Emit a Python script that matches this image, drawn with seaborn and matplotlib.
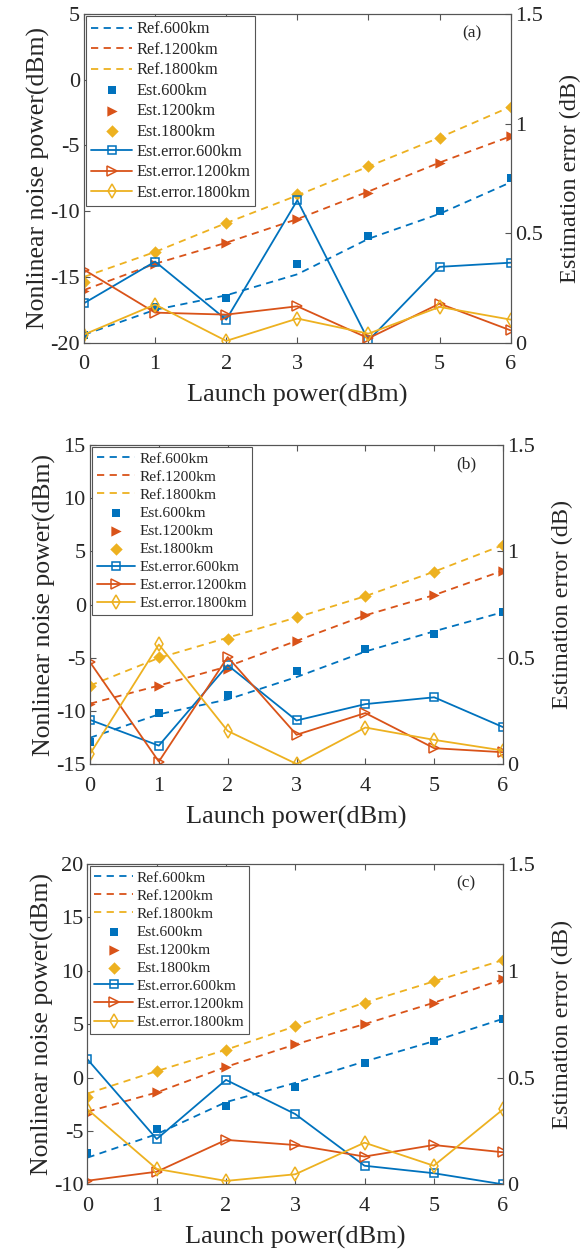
import numpy as np
import pandas as pd
import matplotlib
matplotlib.use('Agg')
import matplotlib.pyplot as plt
import seaborn as sns

# launch power (dBm)
x = [0, 1, 2, 3, 4, 5, 6]

# panel (a)
a_ref600 = [-19.4, -17.5, -16.4, -14.8, -12.1, -10.2, -7.8]
a_est600 = [-19.4, -17.3, -16.6, -14.0, -11.9, -10.0, -7.5]
a_ref1200 = [-16.0, -14.0, -12.4, -10.6, -8.5, -6.3, -4.3]
a_est1200 = [-16.1, -14.0, -12.4, -10.6, -8.6, -6.3, -4.3]
a_ref1800 = [-15.0, -13.1, -10.9, -8.8, -6.6, -4.4, -2.05]
a_est1800 = [-15.4, -13.1, -10.9, -8.7, -6.6, -4.4, -2.05]
a_err600 = [0.18, 0.37, 0.105, 0.65, 0.01, 0.346, 0.365]
a_err1200 = [0.333, 0.137, 0.128, 0.166, 0.02, 0.178, 0.056]
a_err1800 = [0.037, 0.174, 0.008, 0.110, 0.041, 0.163, 0.105]

# panel (b)
b_ref600 = [-12.5, -10.3, -8.9, -6.8, -4.4, -2.5, -0.7]
b_est600 = [-12.9, -10.2, -8.5, -6.25, -4.2, -2.8, -0.7]
b_ref1200 = [-9.3, -7.6, -5.8, -3.4, -1.0, 0.9, 3.2]
b_est1200 = [-9.3, -7.6, -6.0, -3.4, -1.0, 0.9, 3.2]
b_ref1800 = [-7.6, -5.0, -3.1, -1.2, 0.8, 3.1, 5.6]
b_est1800 = [-7.6, -4.9, -3.2, -1.2, 0.8, 3.1, 5.6]
b_err600 = [0.209, 0.088, 0.466, 0.206, 0.283, 0.315, 0.175]
b_err1200 = [0.48, 0.013, 0.504, 0.139, 0.241, 0.076, 0.057]
b_err1800 = [0.049, 0.563, 0.157, 0.002, 0.173, 0.115, 0.065]

# panel (c)
c_ref600 = [-7.5, -5.3, -2.3, -0.5, 1.5, 3.4, 5.5]
c_est600 = [-7.1, -4.8, -2.7, -0.9, 1.4, 3.4, 5.5]
c_ref1200 = [-3.2, -1.4, 1.0, 3.1, 5.0, 7.0, 9.2]
c_est1200 = [-3.45, -1.4, 1.0, 3.1, 5.0, 7.0, 9.2]
c_ref1800 = [-1.5, 0.6, 2.6, 4.8, 7.0, 9.0, 11.0]
c_est1800 = [-1.85, 0.6, 2.6, 4.8, 6.95, 9.0, 11.0]
c_err600 = [0.585, 0.212, 0.489, 0.329, 0.087, 0.052, 0.0]
c_err1200 = [0.017, 0.059, 0.208, 0.184, 0.13, 0.184, 0.15]
c_err1800 = [0.351, 0.072, 0.016, 0.047, 0.195, 0.087, 0.351]

distances = ['600km', '1200km', '1800km']
colors = ['#0072BD', '#D95319', '#EDB120']

sns.set_style('ticks')
plt.rcParams['font.family'] = ['Liberation Serif', 'DejaVu Serif']
plt.rcParams['axes.unicode_minus'] = False

panels = [
    dict(tag='(a)', ylim=(-20, 5), rect=[0.1433, 0.7261, 0.7282, 0.2627], leg=(11.8, 0.27),
         ref=[a_ref600, a_ref1200, a_ref1800], est=[a_est600, a_est1200, a_est1800],
         err=[a_err600, a_err1200, a_err1800]),
    dict(tag='(b)', ylim=(-15, 15), rect=[0.1536, 0.3890, 0.7048, 0.2553], leg=(11.1, 0.275),
         ref=[b_ref600, b_ref1200, b_ref1800], est=[b_est600, b_est1200, b_est1800],
         err=[b_err600, b_err1200, b_err1800]),
    dict(tag='(c)', ylim=(-10, 20), rect=[0.1493, 0.0533, 0.7091, 0.2561], leg=(11.1, 0.275),
         ref=[c_ref600, c_ref1200, c_ref1800], est=[c_est600, c_est1200, c_est1800],
         err=[c_err600, c_err1200, c_err1800]),
]

est_markers = [('s', 30), ('>', 55), ('D', 40)]
err_markers = [('s', 5.5), ('>', 7), ('d', 7.5)]
spine_col = '#555555'

fig = plt.figure(figsize=(5.86, 12.51), dpi=100)

for p in panels:
    ax = fig.add_axes(p['rect'])
    ax2 = ax.twinx()

    for i, d in enumerate(distances):
        sns.lineplot(x=x, y=p['ref'][i], ax=ax, color=colors[i], linewidth=1.3,
                     linestyle=(0, (4, 3)), label='Ref.' + d, legend=False)
    for i, d in enumerate(distances):
        m, s = est_markers[i]
        sns.scatterplot(x=x, y=p['est'][i], ax=ax, color=colors[i], marker=m, s=s,
                        linewidth=0, label='Est.' + d, legend=False, zorder=3)
    for i, d in enumerate(distances):
        m, ms = err_markers[i]
        sns.lineplot(x=x, y=p['err'][i], ax=ax2, color=colors[i], linewidth=1.3,
                     marker=m, markersize=ms, markerfacecolor='none',
                     markeredgecolor=colors[i], markeredgewidth=1.1,
                     label='Est.error.' + d, legend=False)

    ax.set_xlim(0, 6)
    ax.set_ylim(*p['ylim'])
    ax.set_yticks(np.arange(p['ylim'][0], p['ylim'][1] + 1, 5))
    ax.set_xticks(x)
    ax2.set_ylim(0, 1.5)
    ax2.set_yticks([0, 0.5, 1, 1.5])
    ax2.set_yticklabels(['0', '0.5', '1', '1.5'])

    ax.tick_params(axis='x', direction='in', top=True, length=4, width=0.8,
                   color=spine_col, labelsize=16, pad=9)
    ax.tick_params(axis='y', direction='in', length=4, width=0.8,
                   color=spine_col, labelsize=16, pad=3)
    ax2.tick_params(axis='y', direction='in', length=4, width=0.8,
                    color=spine_col, labelsize=16, pad=3)
    for a in (ax, ax2):
        for sp in a.spines.values():
            sp.set_color(spine_col)
            sp.set_linewidth(0.8)

    ax.set_xlabel('Launch power(dBm)', fontsize=19, labelpad=7)
    ax.set_ylabel('Nonlinear noise power(dBm)', fontsize=18.5, labelpad=0)
    ax2.set_ylabel('Estimation error (dB)', fontsize=17.5, labelpad=12)

    h1, l1 = ax.get_legend_handles_labels()
    h2, l2 = ax2.get_legend_handles_labels()
    fs, ls = p['leg']
    leg = ax2.legend(h1 + h2, l1 + l2, loc='upper left', fontsize=fs,
                     frameon=True, fancybox=False, framealpha=1,
                     edgecolor=spine_col, borderaxespad=0.15, handlelength=2.5,
                     handletextpad=0.25, labelspacing=ls, borderpad=0.3,
                     markerscale=1.0)
    leg.get_frame().set_linewidth(0.8)

    ax2.text(0.91, 0.94, p['tag'], transform=ax2.transAxes, ha='center',
             va='center', fontsize=12.5)

fig.savefig('out.png', dpi=100)
